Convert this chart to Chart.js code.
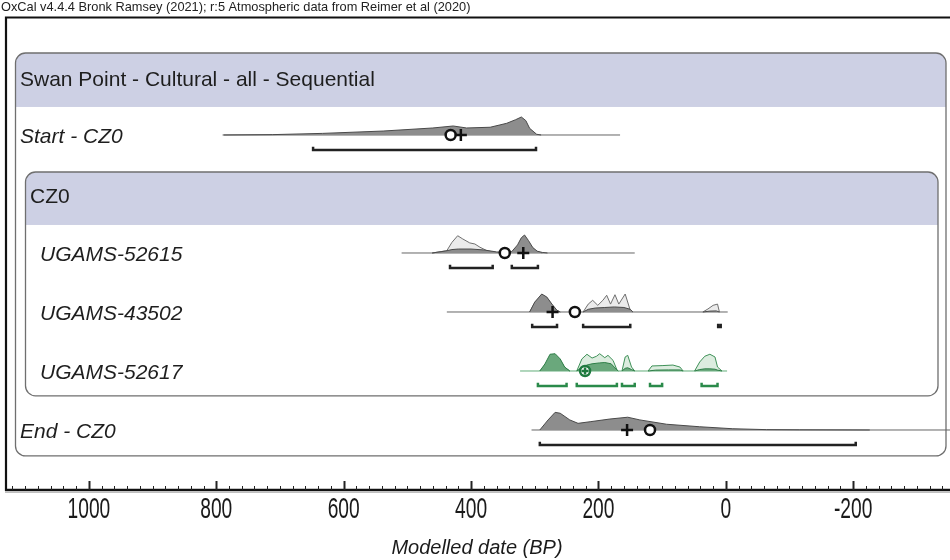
<!DOCTYPE html>
<html><head><meta charset="utf-8">
<script src="https://cdn.jsdelivr.net/npm/chart.js@4.4.1/dist/chart.umd.min.js"></script>
<style>html,body{margin:0;padding:0;background:#fff;}#wrap{width:950px;height:560px;position:relative;overflow:hidden}</style>
</head><body><div id="wrap"><canvas id="c" width="950" height="560"></canvas></div>
<script>
// ---------- DATA ----------
const headerText = 'OxCal v4.4.4 Bronk Ramsey (2021); r:5 Atmospheric data from Reimer et al (2020)';
const axisTitle = 'Modelled date (BP)';
const tickLabels = [1000, 800, 600, 400, 200, 0, -200];
const groupLabels = ['Swan Point - Cultural - all - Sequential', 'CZ0'];
const categories = ['Start - CZ0', 'UGAMS-52615', 'UGAMS-43502', 'UGAMS-52617', 'End - CZ0'];

// Start - CZ0 (posterior)
const startBP   = [790, 712, 633, 538, 460, 428, 407, 370, 344, 330, 321, 314, 308, 297, 290];
const startProb = [0,   2,   9,   22,  39,  50,  39,  43,  65,  85,  100, 80,  37,  4,   0];
const startRange = [788, 166];

// UGAMS-52615
const u52615LikeBP   = [461, 438, 430, 421, 413, 402, 394, 386, 375, 363, 350, null, 335, 325, 316, 308, 298, 288];
const u52615LikeProb = [0,   13,  59,  96,  78,  56,  50,  32,  13,  4,   0,   null, 0,   40,  65,  40,  10,  0];
const u52615PostBP   = [461, 440, 430, 420, 400, 380, 360, 345, 336, 327, 321, 316, 310, 303, 296, 288, 280];
const u52615PostProb = [0,   11,  19,  22,  22,  17,  6,   2,   8,   45,  85,  100, 70,  30,  10,  3,   0];
const u52615Range = [509, 143];

// UGAMS-43502
const u43502LikeBP   = [308, 300, 289, 281, 273, 265, 260, null, 224, 216, 209, 201, 193, 187, 181, 174, 168, 158, 150, 146, null, 36, 28, 20, 13, 10];
const u43502LikeProb = [0,   50,  95,  80,  40,  8,   0,   null, 0,   44,  65,  37,  65,  93,  44,  96,  44,  100, 9,   0,   null, 0,  17, 37, 44, 0];
const u43502PostBP   = [308, 300, 289, 281, 273, 265, 260, null, 224, 216, 205, 190, 175, 160, 150, 146, null, 36, 25, 15, 10];
const u43502PostProb = [0,   55,  100, 83,  44,  9,   0,   null, 0,   15,  22,  25,  28,  25,  15,  0,   null, 0,  5,  6,  0];
const u43502Range = [438, -3];

// UGAMS-52617
const u52617LikeBP   = [292, 284, 276, 268, 260, 253, 245, null, 234, 226, 218, 210, 203, 198, 190, 185, 177, 171, 169, null, 163, 158, 154, 148, 143, null, 122, 116, 100, 83, 72, 67, null, 49, 41, 33, 25, 17, 13, 6];
const u52617LikeProb = [0,   30,  75,  80,  60,  20,  0,   null, 0,   67,  93,  72,  82,  96,  74,  87,  59,  7,   0,   null, 0,   78,  87,  22,  0,   null, 0,   28,  30,  33, 22, 0,  null, 0,  50, 82, 93, 78, 22, 0];
const u52617PostBP   = [292, 284, 276, 268, 260, 253, 245, null, 234, 226, 218, 210, 198, 190, 180, 171, 169, null, 163, 158, 154, 148, 143, null, 122, 110, 90, 72, 67, null, 49, 41, 33, 25, 17, 13, 6];
const u52617PostProb = [0,   39,  93,  96,  67,  22,  0,   null, 0,   20,  33,  40,  45,  47,  40,  6,   0,   null, 0,   15,  18,  8,   0,   null, 0,   5,   6,  6,  0,  null, 0,  8,  12, 12, 10, 5,  0];
const u52617Range = [323, -2];

// End - CZ0 (posterior)
const endBP   = [292, 279, 268, 260, 245, 232, 213, 182, 154, 135, 93, 41, -11, -64, -116, -226];
const endProb = [0,   56,  98,  93,  56,  37,  46,  61,  71,  56,  32, 18, 7,   2,   1,    0];
const endRange = [305, -360];

// 95.4% ranges [from, to] BP
const startHPD  = [[648, 298]];
const u52615HPD = [[433, 366], [336, 295]];
const u43502HPD = [[304, 265], [224, 150], [12, 8]];
const u52617HPD = [[295, 250], [234, 171], [163, 143], [119, 100], [38, 13]];
const endHPD    = [[292, -204]];

// mean (circle) and median (cross), BP
const meanBP   = [432, 347, 237, 221, 119];
const medianBP = [416, 318, 272, 221, 155];

// ---------- LAYOUT / STYLE ----------
const rowOf = {'Start - CZ0': 0, 'UGAMS-52615': 2, 'UGAMS-43502': 3, 'UGAMS-52617': 4, 'End - CZ0': 5};
const PEAK = 0.305;     // row units for 100%
const BR_OFF = 0.254;   // bracket offset below baseline
const BR_TICK = 0.055;
const GRAY = {line: '#666', likeFill: '#ebebeb', likeLine: '#707070', postFill: '#8d8d8d', postLine: '#4a4a4a', br: '#222', mk: '#111'};
const GREEN = {line: '#62ad7a', likeFill: '#dcecdf', likeLine: '#3f9158', postFill: '#6aa87c', postLine: '#2f7f48', br: '#2a8a4a', mk: '#1f7a3f'};

function dens(bp, prob, row) {
  return bp.map((b, i) => prob[i] === null ? {x: bp[i - 1], y: null} : {x: b, y: row - PEAK * prob[i] / 100});
}
function brackets(list, row) {
  const pts = [];
  list.forEach(([a, b]) => {
    const y = row + BR_OFF;
    pts.push({x: a, y: y - BR_TICK}, {x: a, y: y}, {x: b, y: y}, {x: b, y: y - BR_TICK}, {x: b, y: null});
  });
  return pts;
}
const datasets = [];
function addRow(name, like, post, range, hpd, mean, median, col) {
  const r = rowOf[name];
  datasets.push({data: [{x: range[0], y: r}, {x: range[1], y: r}], borderColor: col.line, borderWidth: 1, pointRadius: 0, order: 6, fill: false});
  if (like) datasets.push({data: dens(like[0], like[1], r), borderColor: col.likeLine, borderWidth: 1, backgroundColor: col.likeFill, pointRadius: 0, fill: {value: r}, order: 5});
  if (post) datasets.push({data: dens(post[0], post[1], r), borderColor: col.postLine, borderWidth: 1, backgroundColor: col.postFill, pointRadius: 0, fill: {value: r}, order: 4});
  datasets.push({data: brackets(hpd, r), borderColor: col.br, borderWidth: 2.5, pointRadius: 0, fill: false, order: 3, borderCapStyle: 'butt', borderJoinStyle: 'miter'});
  datasets.push({data: [{x: mean, y: r}], showLine: false, pointStyle: 'circle', pointRadius: 5, pointBorderWidth: 2.5, pointBorderColor: col.mk, pointBackgroundColor: '#fff', order: 2});
  datasets.push({data: [{x: median, y: r}], showLine: false, pointStyle: 'cross', pointRadius: name === 'UGAMS-52617' ? 3.5 : 6, pointBorderWidth: 2.5, pointBorderColor: col.mk, order: 1});
}
addRow('Start - CZ0', null, [startBP, startProb], startRange, startHPD, meanBP[0], medianBP[0], GRAY);
addRow('UGAMS-52615', [u52615LikeBP, u52615LikeProb], [u52615PostBP, u52615PostProb], u52615Range, u52615HPD, meanBP[1], medianBP[1], GRAY);
addRow('UGAMS-43502', [u43502LikeBP, u43502LikeProb], [u43502PostBP, u43502PostProb], u43502Range, u43502HPD, meanBP[2], medianBP[2], GRAY);
addRow('UGAMS-52617', [u52617LikeBP, u52617LikeProb], [u52617PostBP, u52617PostProb], u52617Range, u52617HPD, meanBP[3], medianBP[3], GREEN);
addRow('End - CZ0', null, [endBP, endProb], endRange, endHPD, meanBP[4], medianBP[4], GRAY);

const FONT = '"Liberation Sans", Arial, Helvetica, sans-serif';

const boxesPlugin = {
  id: 'boxes',
  beforeDatasetsDraw(chart) {
    const ctx = chart.ctx, ys = chart.scales.y;
    const Y = v => ys.getPixelForValue(v);
    function group(x0, x1, top, headBottom, bottom) {
      const t = Y(top), hb = Y(headBottom), b = Y(bottom);
      ctx.save();
      ctx.beginPath(); ctx.roundRect(x0, t, x1 - x0, b - t, 10); ctx.fillStyle = '#fff'; ctx.fill();
      ctx.save(); ctx.clip(); ctx.fillStyle = '#cdd0e4'; ctx.fillRect(x0, t, x1 - x0, hb - t); ctx.restore();
      ctx.beginPath(); ctx.roundRect(x0, t, x1 - x0, b - t, 10);
      ctx.strokeStyle = '#6f6f6f'; ctx.lineWidth = 1.3; ctx.stroke();
      ctx.restore();
    }
    group(15.5, 946, -1.39, -0.475, 5.44);
    group(25.5, 938, 0.627, 1.525, 4.42);
    // labels
    ctx.save();
    ctx.fillStyle = '#1e1e1e'; ctx.textBaseline = 'middle'; ctx.textAlign = 'left';
    ctx.font = '21px ' + FONT;
    ctx.fillText(groupLabels[0], 20, Y(-1) + 4);
    ctx.fillText(groupLabels[1], 30, Y(1) + 3);
    ctx.font = 'italic 21px ' + FONT;
    const indent = {'Start - CZ0': 20, 'UGAMS-52615': 40, 'UGAMS-43502': 40, 'UGAMS-52617': 40, 'End - CZ0': 20};
    categories.forEach(c => ctx.fillText(c, indent[c], Y(rowOf[c]) + 2));
    ctx.restore();
  },
  afterDatasetsDraw(chart) {
    const ctx = chart.ctx, xs = chart.scales.x;
    const axisY = chart.chartArea.bottom;
    ctx.save();
    // outer frame
    ctx.strokeStyle = '#111'; ctx.lineWidth = 2.2;
    ctx.beginPath(); ctx.moveTo(6, 491); ctx.lineTo(6, 17.5); ctx.lineTo(950, 17.5); ctx.stroke();
    // axis line
    ctx.lineWidth = 2.6;
    ctx.beginPath(); ctx.moveTo(5, axisY); ctx.lineTo(950, axisY); ctx.stroke();
    ctx.strokeStyle = 'rgba(0,0,0,0.25)'; ctx.lineWidth = 1;
    ctx.beginPath(); ctx.moveTo(5, axisY + 2.5); ctx.lineTo(950, axisY + 2.5); ctx.stroke();
    // ticks
    ctx.strokeStyle = '#222';
    for (let v = -340; v <= 1120; v += 20) {
      const px = Math.round(xs.getPixelForValue(v)) + 0.5;
      const major = v % 200 === 0;
      ctx.lineWidth = major ? 2 : 1;
      ctx.beginPath(); ctx.moveTo(px, axisY); ctx.lineTo(px, axisY - (major ? 9 : 4)); ctx.stroke();
    }
    // tick labels (condensed)
    ctx.fillStyle = '#1a1a1a'; ctx.textAlign = 'center'; ctx.textBaseline = 'alphabetic';
    ctx.font = '30px ' + FONT;
    tickLabels.forEach(t => {
      const px = xs.getPixelForValue(t);
      ctx.save(); ctx.translate(px, 518); ctx.scale(0.64, 1); ctx.fillText(String(t), 0, 0); ctx.restore();
    });
    // axis title
    ctx.font = 'italic 20px ' + FONT;
    ctx.fillText(axisTitle, 477, 554);
    // header
    ctx.textAlign = 'left'; ctx.font = '12.8px ' + FONT; ctx.fillStyle = '#222';
    ctx.fillText(headerText, 1, 11);
    ctx.restore();
  }
};

new Chart(document.getElementById('c'), {
  type: 'line',
  data: {datasets},
  options: {
    responsive: false, animation: false, devicePixelRatio: 1,
    layout: {autoPadding: false, padding: {left: 8, right: 0, top: 18, bottom: 70}},
    plugins: {legend: {display: false}, tooltip: {enabled: false}},
    elements: {line: {tension: 0}},
    scales: {
      x: {type: 'linear', reverse: true, min: -352, max: 1127, display: false},
      y: {type: 'linear', reverse: true, min: -1.983, max: 6.017, display: false}
    }
  },
  plugins: [boxesPlugin]
});
</script></body></html>
